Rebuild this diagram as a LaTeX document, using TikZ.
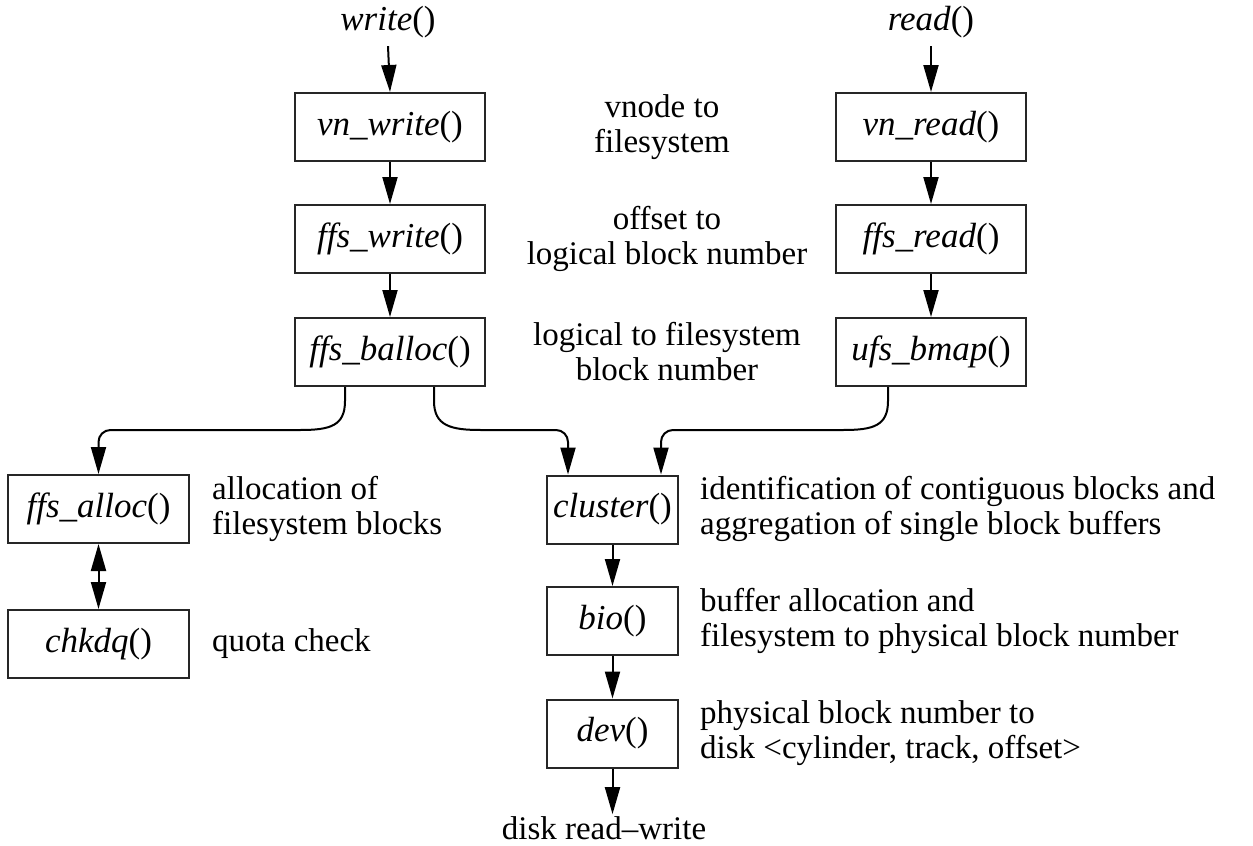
\documentclass[tikz,border=0pt]{standalone}
\usepackage{fontspec}
\setmainfont{Liberation Serif}
\usetikzlibrary{arrows.meta,calc}
\begin{document}
\begin{tikzpicture}[x=1pt,y=-1pt,
  every node/.style={font=\fontsize{33}{35}\selectfont, inner sep=0pt},
  fn/.style={font=\fontsize{35}{38}\selectfont},
  fbox/.style={fn, draw=black!85, line width=2pt, minimum height=68pt, anchor=center},
  wide/.style={fbox, minimum width=190pt},
  narrow/.style={fbox, minimum width=131pt},
  lbox/.style={fbox, minimum width=181pt},
  lab/.style={align=left, anchor=west},
  mlab/.style={align=center},
  tip/.tip={Triangle[length=27pt,width=15pt]},
  arr/.style={line width=2pt, -tip},
  darr/.style={line width=2pt, tip-tip}
]
\useasboundingbox[fill=white] (0,0) rectangle (1253,846);
% function nodes
\node[fn] (write) at (388,22) {\textit{write}()};
\node[fn] (read) at (931,22) {\textit{read}()};
\node[wide] (vnw) at (390,127) {\textit{vn\_write}()};
\node[wide] (ffw) at (390,239) {\textit{ffs\_write}()};
\node[wide] (bal) at (390,352) {\textit{ffs\_balloc}()};
\node[wide] (vnr) at (931,127) {\textit{vn\_read}()};
\node[wide] (ffr) at (931,239) {\textit{ffs\_read}()};
\node[wide] (bmap) at (931,352) {\textit{ufs\_bmap}()};
\node[lbox] (alloc) at (98.5,509) {\textit{ffs\_alloc}()};
\node[lbox] (chk) at (98.5,644) {\textit{chkdq}()};
\node[narrow] (clu) at (612.5,509.5) {\textit{cluster}()};
\node[narrow] (bio) at (612.5,621) {\textit{bio}()};
\node[narrow] (dev) at (612.5,733.5) {\textit{dev}()};
\node (disk) at (604,828) {disk read--write};
% descriptions
\node[mlab] (l1) at (662,127) {vnode to\\filesystem};
\node[mlab] (l2) at (667,239) {offset to\\logical block number};
\node[mlab] (l3) at (667,352) {logical to filesystem\\block number};
\node[lab] (l4) at (212,509) {allocation of\\filesystem blocks};
\node[lab] (l5) at (212,644) {quota check};
\node[lab] (l6) at (700,509) {identification of contiguous blocks and\\aggregation of single block buffers};
\node[lab] (l7) at (700,621) {buffer allocation and\\filesystem to physical block number};
\node[lab] (l8) at (700,733) {physical block number to\\disk <cylinder, track, offset>};
% helper coordinates
\coordinate (h) at (0,430);
\coordinate (s1) at ($(bal.south west)+(51,0)$);
\coordinate (s2) at ($(bal.south west)+(140,0)$);
\coordinate (s3) at ($(bmap.south west)+(53,0)$);
\coordinate (c1) at ($(clu.north west)+(22,0)$);
\coordinate (c2) at ($(clu.north east)+(-18,0)$);
% straight arrows
\draw[arr] ($(write.south)+(0,8)$) -- (vnw.north |- vnw.north);
\draw[arr] ($(read.south)+(0,8)$) -- (read.south |- vnr.north);
\draw[arr] (vnw) -- (ffw);
\draw[arr] (ffw) -- (bal);
\draw[arr] (vnr) -- (ffr);
\draw[arr] (ffr) -- (bmap);
\draw[darr] (alloc) -- (chk);
\draw[arr] (clu) -- (bio);
\draw[arr] (bio) -- (dev);
\draw[arr] (dev) -- ($(dev.south |- disk.north)+(0,-2)$);
% curved connectors
\draw[arr] (s1) -- ++(0,14) .. controls +(0,25) and +(30,0) .. (300,430) [rounded corners=12pt] -- (alloc.north |- h) -- (alloc.north);
\draw[arr] (s2) -- ++(0,14) .. controls +(0,25) and +(-30,0) .. (481,430) [rounded corners=12pt] -- (c1 |- h) -- (c1);
\draw[arr] (s3) -- ++(0,14) .. controls +(0,25) and +(30,0) .. (843,430) [rounded corners=12pt] -- (c2 |- h) -- (c2);
\end{tikzpicture}
\end{document}
